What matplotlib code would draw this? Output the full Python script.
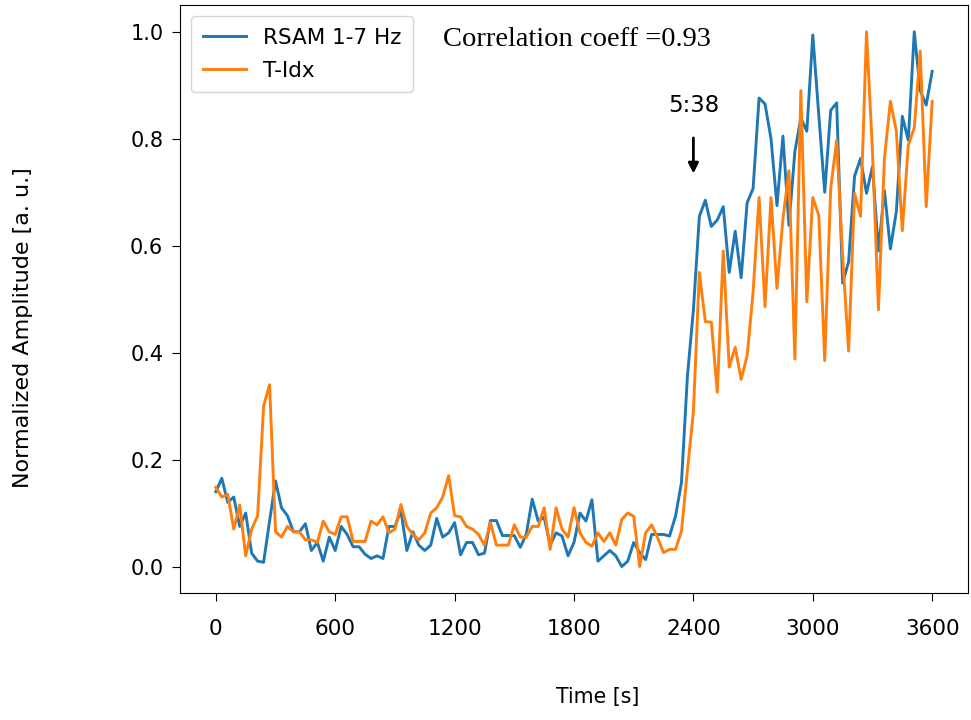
import numpy as np
import matplotlib
matplotlib.use("Agg")
import matplotlib.pyplot as plt

# sampling every 30 s over one hour
time_s = np.arange(0, 3601, 30)

rsam = [
    0.14, 0.165, 0.12, 0.13, 0.075, 0.10, 0.025, 0.01, 0.008, 0.085,
    0.16, 0.11, 0.095, 0.065, 0.065, 0.08, 0.03, 0.045, 0.01, 0.055,
    0.03, 0.075, 0.06, 0.037, 0.037, 0.023, 0.015, 0.02, 0.015, 0.075,
    0.075, 0.105, 0.03, 0.065, 0.04, 0.03, 0.04, 0.09, 0.055, 0.063,
    0.082, 0.022, 0.045, 0.045, 0.022, 0.025, 0.086, 0.086, 0.058, 0.058,
    0.058, 0.036, 0.06, 0.126, 0.085, 0.092, 0.04, 0.063, 0.057, 0.02,
    0.045, 0.10, 0.085, 0.125, 0.01, 0.02, 0.03, 0.02, 0.0, 0.01,
    0.045, 0.026, 0.013, 0.06, 0.06, 0.06, 0.057, 0.094, 0.157, 0.356,
    0.48, 0.655, 0.685, 0.636, 0.648, 0.673, 0.55, 0.627, 0.54, 0.68,
    0.707, 0.876, 0.865, 0.80, 0.675, 0.805, 0.638, 0.776, 0.839, 0.814,
    0.994, 0.845, 0.70, 0.853, 0.867, 0.53, 0.57, 0.73, 0.763, 0.698,
    0.748, 0.59, 0.703, 0.594, 0.664, 0.842, 0.797, 1.0, 0.89, 0.863,
    0.926,
]

t_idx = [
    0.148, 0.13, 0.135, 0.07, 0.115, 0.02, 0.07, 0.095, 0.30, 0.34,
    0.065, 0.055, 0.075, 0.065, 0.065, 0.05, 0.05, 0.045, 0.085, 0.065,
    0.06, 0.093, 0.093, 0.047, 0.047, 0.047, 0.085, 0.078, 0.093, 0.063,
    0.07, 0.116, 0.075, 0.06, 0.05, 0.063, 0.10, 0.11, 0.13, 0.17,
    0.095, 0.093, 0.075, 0.07, 0.06, 0.04, 0.082, 0.04, 0.04, 0.04,
    0.078, 0.055, 0.055, 0.075, 0.075, 0.11, 0.032, 0.11, 0.07, 0.055,
    0.11, 0.063, 0.045, 0.038, 0.063, 0.047, 0.063, 0.04, 0.088, 0.10,
    0.094, 0.0, 0.063, 0.078, 0.054, 0.026, 0.032, 0.032, 0.066, 0.18,
    0.29, 0.55, 0.458, 0.457, 0.326, 0.59, 0.373, 0.41, 0.35, 0.394,
    0.513, 0.69, 0.486, 0.69, 0.52, 0.65, 0.74, 0.388, 0.89, 0.495,
    0.69, 0.657, 0.385, 0.707, 0.797, 0.58, 0.403, 0.698, 0.655, 1.0,
    0.776, 0.48, 0.763, 0.87, 0.814, 0.628, 0.788, 0.82, 0.964, 0.673,
    0.87,
]

x_ticks = [0, 600, 1200, 1800, 2400, 3000, 3600]
onset_time = 2400
corr_text = "Correlation coeff =0.93"

fig = plt.figure(figsize=(9.71, 7.2), dpi=100)
ax = fig.add_axes([0.1854, 0.176, 0.8115, 0.817])

ax.plot(time_s, rsam, color="#1f77b4", linewidth=2.1, label="RSAM 1-7 Hz")
ax.plot(time_s, t_idx, color="#ff7f0e", linewidth=2.1, label="T-Idx")

ax.set_xticks(x_ticks)
ax.tick_params(axis="x", labelsize=15.5, length=5.5, pad=13)
ax.tick_params(axis="y", labelsize=15, length=6, pad=6)
ax.set_xlabel("Time [s]", fontsize=14.8)
ax.set_ylabel("Normalized Amplitude [a. u.]", fontsize=16)
ax.xaxis.set_label_coords(0.53, -0.16)
ax.yaxis.set_label_coords(-0.187, 0.452)

ax.legend(loc="upper left", fontsize=15.5, handlelength=2.0,
          labelspacing=0.6, borderpad=0.55)
ax.text(1140, 0.985, corr_text, family="Liberation Serif", fontsize=20.5,
        va="center", ha="left")

ax.annotate("5:38", xy=(onset_time, 0.735), xytext=(onset_time, 0.862),
            ha="center", va="center", fontsize=16.5,
            arrowprops=dict(arrowstyle="-|>", color="black", lw=2,
                            shrinkA=13, shrinkB=0, mutation_scale=15))

fig.savefig("out.png", dpi=100)
